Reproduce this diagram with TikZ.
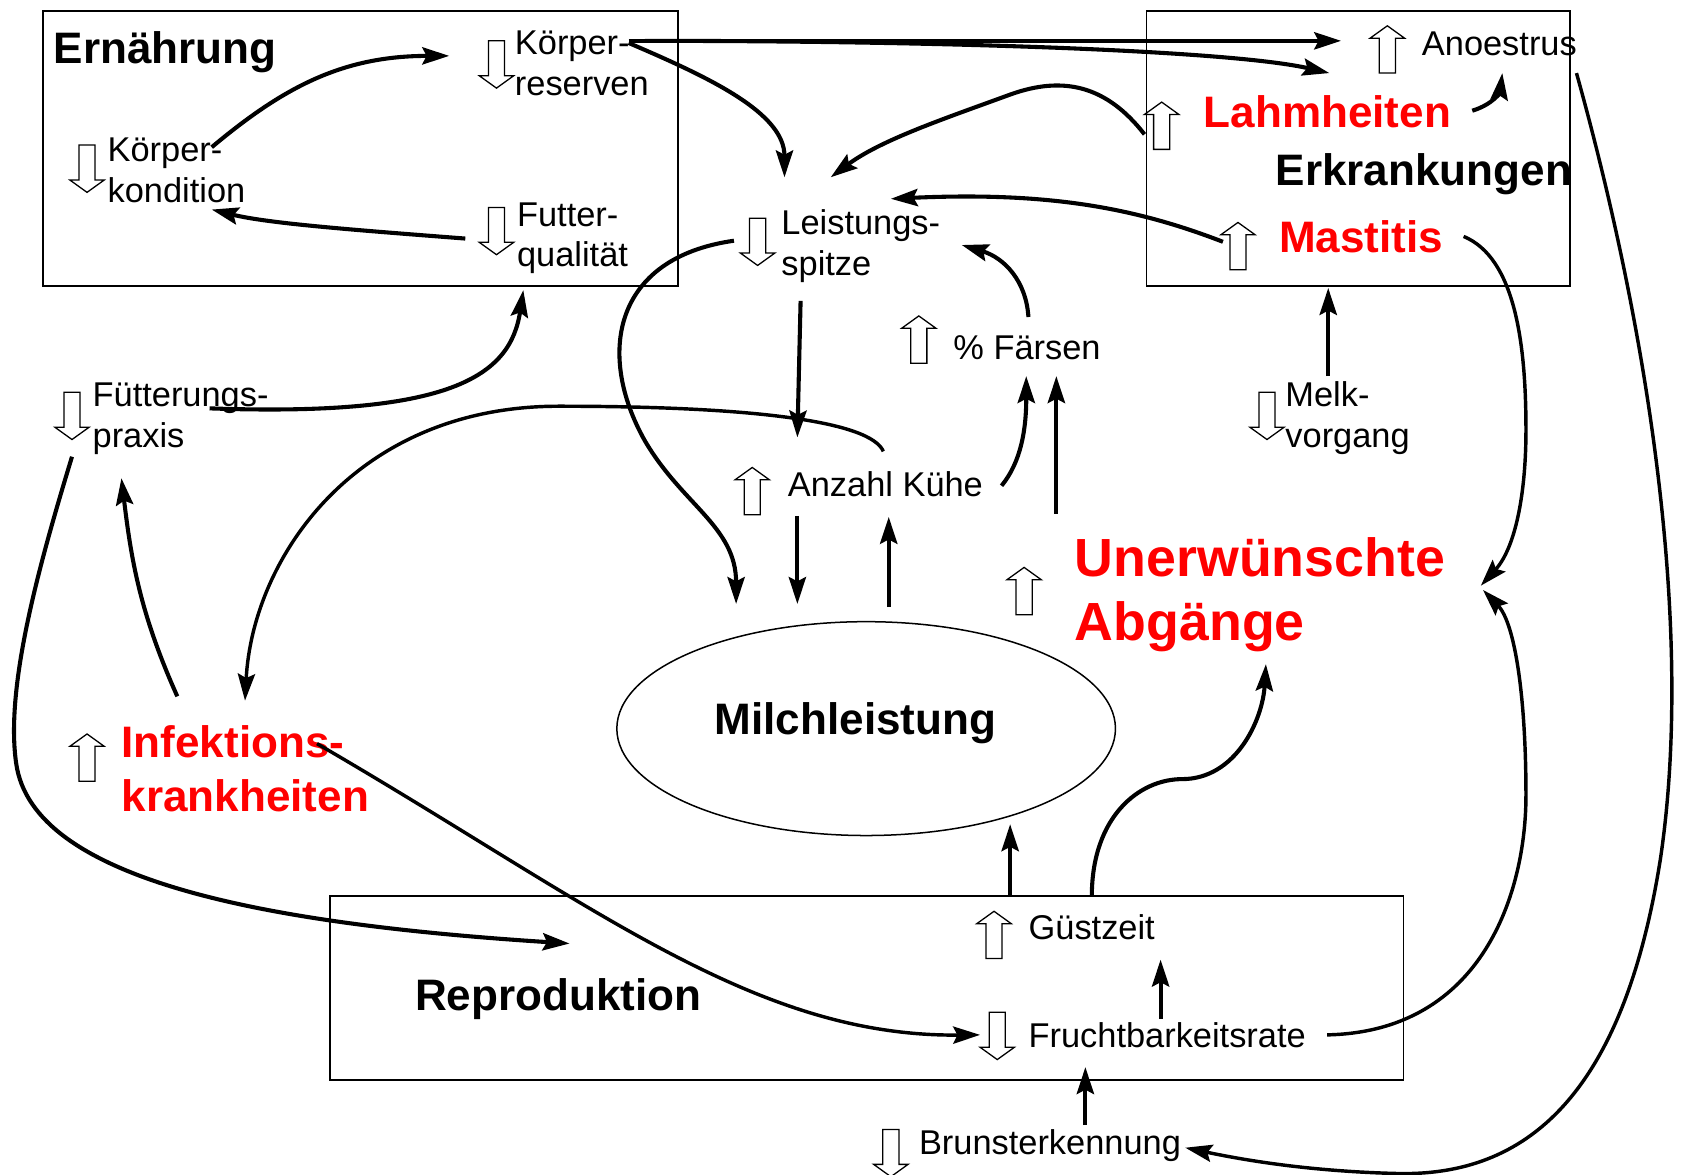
\documentclass[tikz,border=0pt]{standalone}
\usepackage{fontspec}
\setmainfont{Liberation Sans}
\usetikzlibrary{arrows.meta,calc,shapes.geometric}
\newcommand\lstr{\rule[-0.2em]{0pt}{1.116em}}
\begin{document}
\begin{tikzpicture}[x=1pt,y=-1pt,
 lbl/.style={anchor=west, inner sep=0pt, align=left, font=\fontsize{32}{38}\selectfont},
 boldlbl/.style={anchor=west, inner sep=0pt, align=left, font=\fontsize{41}{50}\selectfont\bfseries},
 redlbl/.style={boldlbl, text=red},
 biglbl/.style={anchor=west, inner sep=0pt, align=left, font=\fontsize{50}{59}\selectfont\bfseries, text=red},
 frame/.style={draw, line width=1.5pt},
 conn/.style={line width=3.8pt, -{Stealth[length=25pt,width=16pt,inset=4pt]}},
 thinconn/.style={conn, line width=3.2pt},
 hup/.pic={\draw[line width=1.2pt, fill=white] (0,-22) -- (16,-10.5) -- (7.5,-10.5) -- (7.5,22) -- (-7.5,22) -- (-7.5,-10.5) -- (-16,-10.5) -- cycle;},
 hdown/.pic={\draw[line width=1.2pt, fill=white] (0,22) -- (16,10.5) -- (7.5,10.5) -- (7.5,-22) -- (-7.5,-22) -- (-7.5,10.5) -- (-16,10.5) -- cycle;}
]
\useasboundingbox (0,0) rectangle (1568,1093);

% frames
\draw[frame] (40,10) rectangle (631,266);
\draw[frame] (1067,10) rectangle (1461,266);
\draw[frame] (307,834) rectangle (1306,1005);
\node[draw, ellipse, line width=1.4pt, minimum width=464pt, minimum height=199pt, inner sep=0pt] (milch) at (806,678) {};

% labels
\node[boldlbl] (ern) at (50,45) {\lstr Ernährung};
\node[lbl] (kres) at (479,58.5) {\lstr Körper-\\\lstr reserven};
\node[lbl] (kkon) at (100,158) {\lstr Körper-\\\lstr kondition};
\node[lbl] (fq) at (481,218) {\lstr Futter-\\\lstr qualität};
\node[lbl] (ls) at (727,226) {\lstr Leistungs-\\\lstr spitze};
\node[lbl] (ano) at (1323,40) {\lstr Anoestrus};
\node[redlbl] (lahm) at (1120,104) {\lstr Lahmheiten};
\node[boldlbl] (erk) at (1187,158) {\lstr Erkrankungen};
\node[redlbl] (mast) at (1190,220) {\lstr Mastitis};
\node[lbl] (fae) at (887,323) {\lstr \% Färsen};
\node[lbl] (melk) at (1196,386) {\lstr Melk-\\\lstr vorgang};
\node[lbl] (fp) at (86,386) {\lstr Fütterungs-\\\lstr praxis};
\node[lbl] (ak) at (733,451) {\lstr Anzahl Kühe};
\node[biglbl] (ab) at (1000,548.5) {\lstr Unerwünschte\\\lstr Abgänge};
\node[boldlbl, anchor=center] (milchtxt) at (796,669) {\lstr Milchleistung};
\node[redlbl] (inf) at (113,715) {\lstr Infektions-\\\lstr krankheiten};
\node[boldlbl] (rep) at (386,926) {\lstr Reproduktion};
\node[lbl] (gz) at (957,863) {\lstr Güstzeit};
\node[lbl] (fr) at (957,963) {\lstr Fruchtbarkeitsrate};
\node[lbl] (brun) at (855,1063) {\lstr Brunsterkennung};

% hollow trend arrows
\pic at (462,60) {hdown};
\pic at (81,157) {hdown};
\pic at (462,215) {hdown};
\pic at (705,225) {hdown};
\pic at (1291,46) {hup};
\pic at (1081,117) {hup};
\pic at (1152,229) {hup};
\pic at (855,316) {hup};
\pic at (1179,387) {hdown};
\pic at (67,387) {hdown};
\pic at (700,457) {hup};
\pic at (953,550) {hup};
\pic at (81,705) {hup};
\pic at (925,870) {hup};
\pic at (928,964) {hdown};
\pic at (829,1073) {hdown};

% connector end points
\coordinate (kkonA) at (197,137);
\coordinate (kresIn) at (418,52);
\coordinate (fqOut) at (433,222);
\coordinate (kkonIn) at (197,195);
\coordinate (kresA) at (585,38);
\coordinate (kresB) at (600,38);
\coordinate (kresC) at (585,40);
\coordinate (anoIn) at (1248,38);
\coordinate (lahmIn) at (1237,68);
\coordinate (lsIn1) at (730,165);
\coordinate (lahmOut) at (1065,125);
\coordinate (lsIn2) at (773,165);
\coordinate (mastOut) at (1138,225);
\coordinate (lsIn3) at (829,185);
\coordinate (faeOut) at (957,295);
\coordinate (lsIn4) at (895,228);
\coordinate (lsOut1) at (745,280);
\coordinate (akIn1) at (742,407);
\coordinate (lsOut2) at (683,224);
\coordinate (milchIn1) at (685,562);
\coordinate (fpOut1) at (195,380);
\coordinate (fqIn) at (487,270);
\coordinate (akOut1) at (822,420);
\coordinate (infIn) at (228,652);
\coordinate (infOut1) at (165,648);
\coordinate (fpIn) at (113,445);
\coordinate (fpOut2) at (67,425);
\coordinate (repIn) at (530,878);
\coordinate (infOut2) at (295,692);
\coordinate (frIn1) at (912,963);
\coordinate (frOut1) at (1080,948);
\coordinate (gzIn) at (1080,893);
\coordinate (gzOut1) at (940,834);
\coordinate (milchIn2) at (940,767);
\coordinate (gzOut2) at (1016,834);
\coordinate (abIn1) at (1178,618);
\coordinate (brunOut) at (1010,1047);
\coordinate (frIn2) at (1010,993);
\coordinate (anoOut) at (1467,68);
\coordinate (brunIn) at (1103,1068);
\coordinate (lahmOut2) at (1370,103);
\coordinate (anoIn2) at (1398,68);
\coordinate (mastOut2) at (1362,220);
\coordinate (abIn2) at (1378,545);
\coordinate (frOut2) at (1235,963);
\coordinate (abIn3) at (1380,549);
\coordinate (melkOut) at (1236,350);
\coordinate (erkIn) at (1236,268);
\coordinate (akOut2) at (932,452);
\coordinate (faeIn1) at (955,350);
\coordinate (abOut) at (983,478);
\coordinate (faeIn2) at (983,350);
\coordinate (akOut3) at (742,480);
\coordinate (milchIn3) at (742,562);
\coordinate (milchOut) at (827,565);
\coordinate (akIn2) at (827,481);

% connectors
\draw[conn] (kkonA) .. controls (265,80) and (320,52) .. (kresIn);
\draw[conn] (fqOut) .. controls (330,214) and (250,208) .. (kkonIn);
\draw[conn] (kresA) -- (anoIn);
\draw[conn] (kresB) .. controls (900,38) and (1150,48) .. (lahmIn);
\draw[conn] (kresC) .. controls (660,72) and (730,105) .. (lsIn1);
\draw[conn] (lahmOut) .. controls (1030,80) and (990,70) .. (940,88) .. controls (880,110) and (820,130) .. (lsIn2);
\draw[conn] (mastOut) .. controls (1060,195) and (980,178) .. (lsIn3);
\draw[conn] (faeOut) .. controls (955,262) and (935,240) .. (lsIn4);
\draw[conn] (lsOut1) -- (akIn1);
\draw[conn] (lsOut2) .. controls (570,240) and (555,330) .. (600,410) .. controls (635,470) and (685,490) .. (milchIn1);
\draw[conn] (fpOut1) .. controls (420,388) and (475,350) .. (fqIn);
\draw[thinconn] (akOut1) .. controls (810,392) and (700,378) .. (520,378) .. controls (330,378) and (235,520) .. (infIn);
\draw[conn] (infOut1) .. controls (130,570) and (122,520) .. (fpIn);
\draw[conn] (fpOut2) .. controls (35,530) and (5,640) .. (15,710) .. controls (30,820) and (250,860) .. (repIn);
\draw[thinconn] (infOut2) .. controls (550,840) and (700,965) .. (frIn1);
\draw[conn] (frOut1) -- (gzIn);
\draw[conn] (gzOut1) -- (milchIn2);
\draw[conn] (gzOut2) .. controls (1016,760) and (1060,725) .. (1100,725) .. controls (1150,725) and (1175,670) .. (abIn1);
\draw[conn] (brunOut) -- (frIn2);
\draw[thinconn] (anoOut) .. controls (1540,330) and (1575,600) .. (1545,800) .. controls (1510,1020) and (1420,1095) .. (1300,1092) .. controls (1220,1090) and (1160,1080) .. (brunIn);
\draw[conn] (lahmOut2) .. controls (1390,97) and (1396,85) .. (anoIn2);
\draw[thinconn] (mastOut2) .. controls (1410,240) and (1420,320) .. (1420,400) .. controls (1420,460) and (1410,510) .. (abIn2);
\draw[thinconn] (frOut2) .. controls (1380,960) and (1420,830) .. (1420,740) .. controls (1420,650) and (1410,580) .. (abIn3);
\draw[conn] (melkOut) -- (erkIn);
\draw[conn] (akOut2) .. controls (950,430) and (955,400) .. (faeIn1);
\draw[conn] (abOut) -- (faeIn2);
\draw[conn] (akOut3) -- (milchIn3);
\draw[conn] (milchOut) -- (akIn2);
\end{tikzpicture}
\end{document}
